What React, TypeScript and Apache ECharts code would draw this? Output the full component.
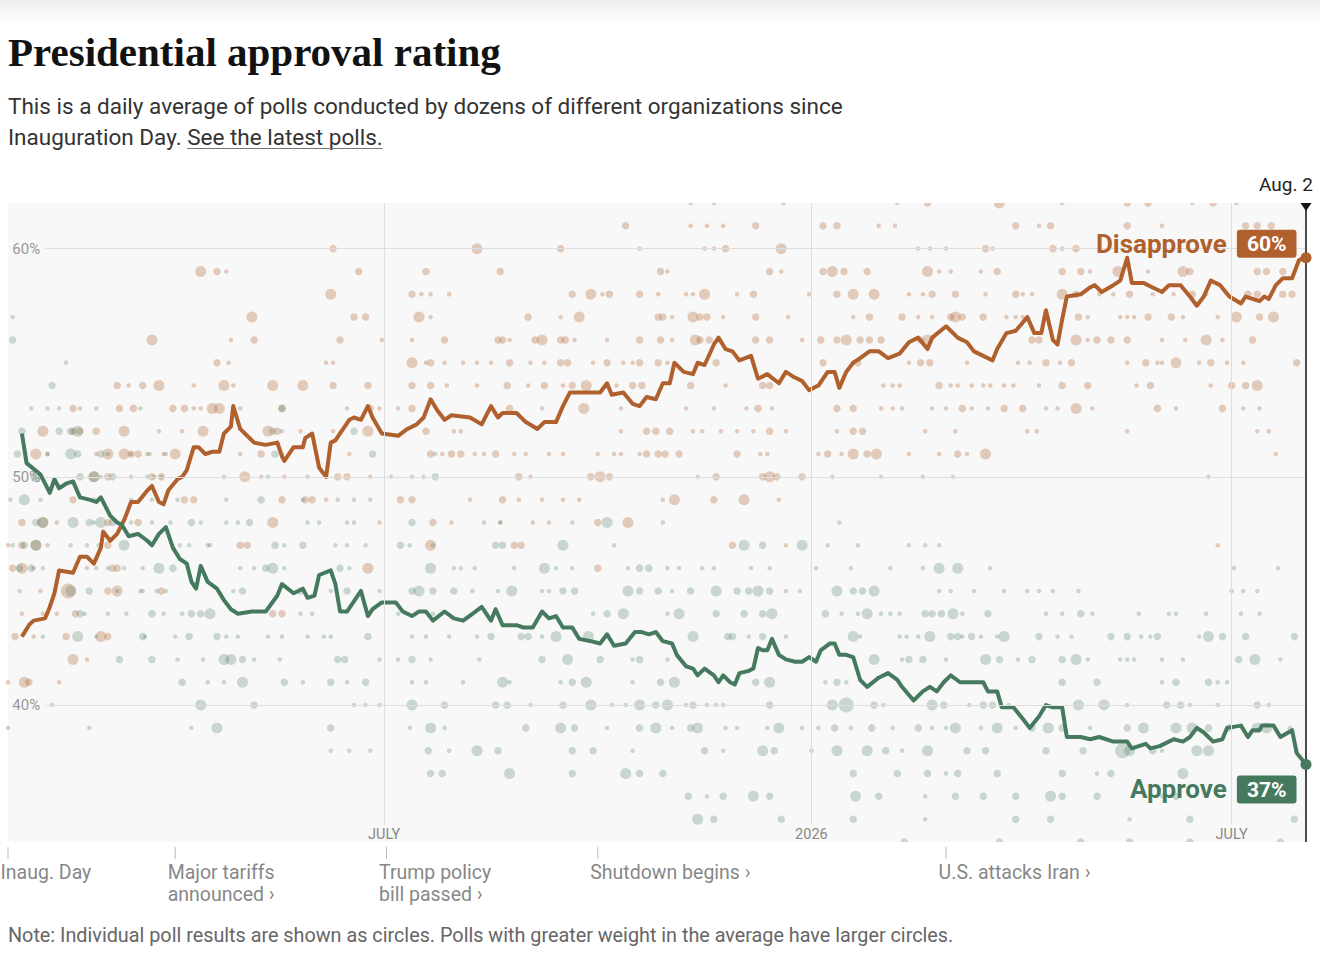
import React, { useEffect, useRef } from "react";
import * as echarts from "echarts";

// ---------- data ----------
// x values are days since Inauguration Day (Jan. 20, 2025)
const END_DAY = 559; // Aug. 2, 2026
const END_LABEL = "Aug. 2";
const Y_MIN = 34;
const Y_MAX = 62;
const Y_TICKS = [40, 50, 60];
const X_TICKS = [
  { day: 162, label: "JULY" },
  { day: 346, label: "2026" },
  { day: 527, label: "JULY" },
];
const EVENTS = [
  { day: 0, label: "Inaug. Day" },
  { day: 72, label: "Major tariffs\nannounced \u203a" },
  { day: 163, label: "Trump policy\nbill passed \u203a" },
  { day: 254, label: "Shutdown begins \u203a" },
  { day: 404, label: "U.S. attacks Iran \u203a" },
];

const DISAPPROVE_AVG: [number, number][] = [
  [6,43.0],[9,43.5],[11,43.7],[16,43.8],[18,44.3],[20,44.9],[22,45.9],[28,45.8],[31,46.5],[34,46.5],[37,46.2],[40,46.9],[41,47.6],[44,47.2],[47,47.5],[50,48.1],[53,48.9],[56,48.9],[60,49.4],[62,49.6],[65,48.9],[67,48.8],[69,49.4],[73,49.9],[75,50.0],[77,50.3],[80,51.3],[82,51.3],[85,51.0],[88,51.1],[91,51.1],[93,51.9],[96,52.2],[97,53.1],[100,52.1],[103,51.8],[106,51.5],[111,51.4],[116,51.5],[118,50.9],[119,50.7],[123,51.3],[127,51.3],[128,51.7],[131,51.9],[134,50.4],[137,50.0],[139,51.5],[141,51.6],[143,51.9],[147,52.5],[149,52.6],[152,52.5],[155,53.1],[157,52.6],[161,51.9],[168,51.8],[172,52.1],[176,52.3],[179,52.6],[182,53.4],[185,52.9],[188,52.5],[191,52.7],[199,52.6],[204,52.3],[208,53.1],[211,52.6],[213,52.8],[219,52.8],[223,52.4],[228,52.1],[231,52.4],[236,52.4],[239,53.1],[242,53.7],[248,53.7],[255,53.7],[258,54.1],[260,53.6],[265,53.7],[269,53.2],[272,53.1],[275,53.5],[279,53.4],[282,54.1],[285,54.1],[287,55.0],[291,54.6],[295,54.5],[297,55.0],[300,54.9],[304,55.8],[306,56.1],[309,55.6],[312,55.5],[315,55.1],[320,55.3],[323,54.3],[327,54.5],[332,54.1],[335,54.6],[338,54.4],[342,54.2],[345,53.8],[349,54.0],[353,54.6],[356,54.6],[358,53.9],[361,54.6],[364,55.0],[367,55.2],[371,55.5],[375,55.5],[379,55.2],[384,55.4],[388,55.9],[392,56.1],[396,55.6],[398,56.1],[404,56.6],[409,56.1],[413,55.9],[416,55.5],[420,55.3],[424,55.1],[426,55.6],[430,56.3],[434,56.4],[439,57.0],[442,56.3],[445,56.3],[447,57.3],[450,56.0],[452,55.8],[454,56.9],[456,57.9],[462,58.0],[466,58.3],[468,58.4],[471,58.1],[476,58.4],[479,58.6],[482,59.6],[484,58.5],[489,58.5],[493,58.3],[497,58.1],[500,58.4],[505,58.4],[509,57.9],[512,57.5],[515,57.9],[518,58.6],[522,58.4],[526,57.9],[531,57.6],[533,57.9],[539,57.7],[541,57.9],[543,57.8],[546,58.4],[549,58.7],[553,58.7],[556,59.5],[559,59.6],
];

const APPROVE_AVG: [number, number][] = [
  [6,51.9],[8,50.6],[14,50.1],[16,49.7],[18,49.3],[20,49.9],[22,49.5],[25,49.7],[28,49.8],[31,49.1],[35,49.0],[38,48.9],[40,49.1],[44,48.3],[47,48.0],[49,47.9],[52,47.4],[56,47.5],[60,47.2],[62,47.0],[65,47.5],[68,47.8],[71,46.9],[74,46.4],[77,46.2],[79,45.4],[81,45.1],[83,46.1],[86,45.4],[90,45.1],[93,44.6],[96,44.2],[99,44.0],[105,44.1],[111,44.1],[116,44.8],[118,45.3],[123,44.9],[127,45.1],[129,44.7],[132,44.8],[134,45.7],[139,45.9],[141,45.3],[143,44.1],[146,44.1],[152,45.0],[155,43.9],[157,44.2],[161,44.5],[167,44.5],[170,44.1],[174,43.9],[177,44.1],[180,44.1],[183,43.7],[188,44.1],[192,43.8],[196,43.7],[200,44.0],[204,44.3],[208,43.7],[210,44.2],[213,43.5],[219,43.5],[222,43.4],[226,43.4],[230,44.1],[233,43.8],[236,43.9],[239,43.4],[243,43.4],[246,42.9],[251,42.8],[255,42.7],[258,43.1],[261,42.6],[266,42.7],[270,43.2],[273,43.2],[276,43.1],[279,43.2],[282,42.8],[286,42.7],[288,42.2],[292,41.7],[295,41.6],[297,41.3],[300,41.6],[304,41.3],[306,41.0],[308,41.3],[311,41.0],[313,40.9],[315,41.4],[319,41.5],[321,41.6],[323,42.5],[325,42.4],[327,42.4],[329,42.9],[332,42.2],[335,42.0],[339,41.9],[342,41.9],[345,42.1],[348,41.9],[350,42.4],[354,42.7],[356,42.7],[358,42.2],[361,42.2],[364,42.1],[367,41.1],[370,40.8],[375,41.2],[379,41.4],[383,41.1],[385,40.8],[390,40.2],[394,40.6],[397,40.8],[400,40.6],[403,41.0],[406,41.3],[410,41.0],[414,41.0],[420,41.0],[422,40.6],[426,40.6],[428,39.9],[433,39.9],[437,39.4],[440,39.0],[444,39.5],[447,40.0],[450,39.9],[454,39.9],[456,38.6],[462,38.6],[466,38.5],[470,38.6],[476,38.4],[482,38.4],[484,38.1],[490,38.3],[492,38.1],[496,38.2],[502,38.5],[506,38.4],[509,38.6],[512,39.0],[515,38.8],[519,38.4],[523,38.5],[525,39.0],[531,39.1],[534,38.6],[536,38.9],[539,38.9],[540,39.1],[545,39.1],[548,38.6],[553,38.9],[555,37.9],[559,37.4],
];

// individual polls: [percent, [day, weight, day, weight, ...]]
const DISAPPROVE_POLL_ROWS: [number, number[]][] = [
  [62, [294,1, 304,1, 334,1, 383,1, 396,2, 427,3, 454,1, 482,2, 491,2, 510,1, 519,2, 529,1]],
  [61, [266,2, 294,1, 301,1, 308,1, 322,2, 351,2, 357,2, 375,1, 382,1, 434,2, 444,1, 449,2, 482,2, 497,1, 533,2, 538,2, 544,2]],
  [60, [140,2, 202,3, 238,2, 272,1, 300,1, 304,1, 309,2, 333,3, 392,1, 397,1, 404,1, 421,2, 424,1, 450,2, 454,1, 460,2, 538,2, 546,2]],
  [59, [83,3, 90,2, 94,1, 151,2, 180,2, 212,2, 281,2, 284,1, 328,2, 333,1, 351,2, 355,3, 360,2, 370,2, 396,3, 401,1, 406,1, 419,1, 426,2, 454,2, 462,2, 466,1, 478,3, 491,1, 506,3, 509,2, 538,2, 542,2, 549,2]],
  [58, [139,3, 174,2, 178,1, 182,1, 190,1, 243,2, 251,3, 256,1, 259,2, 272,2, 280,1, 292,1, 295,1, 300,3, 314,1, 321,2, 345,1, 357,2, 364,3, 373,3, 388,1, 394,1, 398,2, 408,2, 421,1, 434,2, 437,1, 441,1, 454,3, 460,2, 470,1, 476,1, 483,2, 493,1, 502,1, 510,2, 516,1, 534,2, 538,2, 549,2, 553,2]],
  [57, [105,3, 149,2, 154,2, 177,3, 182,1, 224,2, 238,1, 246,3, 280,2, 282,2, 286,1, 295,3, 298,2, 301,2, 308,1, 322,2, 336,1, 364,1, 371,2, 385,2, 392,1, 398,1, 406,2, 408,3, 411,2, 420,2, 430,1, 434,1, 437,1, 461,2, 465,1, 479,1, 482,1, 485,1, 491,2, 501,2, 506,1, 521,1, 529,3, 539,2, 545,3]],
  [56, [62,3, 96,1, 106,2, 143,2, 161,1, 174,1, 188,2, 211,2, 213,2, 216,1, 227,2, 230,3, 238,2, 240,2, 244,1, 258,1, 272,2, 281,2, 286,1, 296,3, 298,2, 302,2, 322,2, 328,2, 342,1, 350,2, 357,2, 361,3, 367,2, 371,2, 376,2, 393,2, 396,3, 411,1, 441,2, 444,2, 460,3, 465,1, 469,2, 475,2, 482,2, 497,1, 507,1, 516,3, 523,1, 536,2]],
  [55, [90,2, 95,1, 137,1, 140,1, 174,3, 180,1, 182,2, 188,1, 196,1, 202,1, 208,1, 216,2, 225,1, 231,1, 238,2, 241,2, 252,1, 258,2, 265,1, 269,1, 272,2, 280,2, 284,1, 305,2, 351,2, 366,2, 388,1, 393,2, 397,2, 413,1, 435,1, 440,1, 447,2, 453,1, 458,2, 482,1, 490,2, 495,1, 497,1, 503,3, 513,1, 518,2, 525,1, 532,1, 555,2]],
  [54, [47,2, 52,1, 58,2, 65,3, 80,1, 93,3, 97,1, 114,3, 127,3, 140,2, 155,2, 174,2, 182,2, 189,1, 202,1, 215,2, 224,1, 231,2, 239,1, 243,2, 249,3, 262,1, 269,2, 273,2, 294,2, 309,1, 325,2, 328,2, 377,1, 381,1, 384,1, 401,2, 406,1, 409,1, 415,1, 420,1, 423,1, 429,1, 433,1, 444,1, 454,2, 465,2, 486,1, 492,2, 518,1, 527,2, 533,2, 538,3]],
  [53, [28,2, 31,1, 48,2, 54,2, 71,2, 76,2, 80,1, 83,1, 88,3, 91,3, 100,1, 118,2, 146,1, 156,2, 160,1, 168,1, 174,2, 216,2, 230,1, 248,3, 264,1, 292,1, 304,1, 318,1, 323,2, 329,1, 357,2, 364,2, 376,1, 381,1, 385,1, 398,1, 404,1, 411,2, 415,1, 422,1, 429,2, 437,2, 447,1, 452,1, 460,3, 467,1, 495,2, 503,1, 523,2, 532,1, 539,1]],
  [52, [15,3, 28,2, 31,2, 38,2, 50,3, 75,1, 84,3, 112,3, 116,2, 126,1, 140,1, 155,3, 180,2, 192,1, 195,1, 264,1, 275,2, 279,2, 285,2, 295,1, 299,1, 307,1, 314,1, 321,1, 328,2, 335,1, 357,1, 364,2, 368,2, 395,1, 408,1, 439,1, 443,1, 482,1, 538,1, 543,1]],
  [51, [12,3, 17,1, 38,1, 43,3, 50,3, 53,2, 56,2, 60,1, 67,1, 72,3, 100,1, 109,2, 147,1, 182,2, 187,1, 191,2, 195,2, 201,1, 205,1, 210,2, 218,1, 223,1, 233,1, 239,1, 254,1, 261,1, 264,1, 272,1, 275,2, 280,2, 283,2, 289,2, 314,2, 324,1, 327,1, 349,1, 353,2, 359,1, 364,3, 370,2, 374,3, 388,1, 401,1, 409,2, 413,1, 421,3, 546,1]],
  [50, [37,3, 43,2, 62,2, 66,2, 93,1, 102,3, 109,1, 119,1, 129,1, 142,2, 146,2, 156,1, 220,2, 225,1, 251,2, 255,3, 259,2, 297,1, 305,2, 325,2, 328,3, 331,2, 342,2, 355,1, 517,1]],
  [49, [28,2, 76,2, 80,2, 118,2, 128,2, 131,2, 137,1, 169,2, 174,2, 199,1, 213,2, 220,1, 230,1, 239,1, 246,1, 282,1, 287,3, 304,2, 317,3, 332,1]],
  [48, [6,2, 15,3, 21,1, 43,2, 56,2, 114,3, 160,1, 183,2, 191,1, 212,1, 226,1, 233,1, 254,2, 267,3]],
  [47, [0,1, 6,2, 12,3, 17,1, 43,2, 86,1, 100,2, 103,2, 182,3, 218,2, 221,2, 312,2, 335,1, 521,1]],
  [46, [2,2, 6,3, 11,1, 34,1, 45,2, 47,2, 155,3, 218,1, 254,2, 284,1, 394,1, 528,1]],
  [45, [14,1, 26,4, 43,2, 47,3, 58,1, 66,2]],
  [44, [6,1, 15,1, 21,1, 29,2, 114,2, 118,2]],
  [43, [3,2, 11,1, 25,2, 40,3, 43,2]],
  [42, [28,3, 34,1]],
  [41, [0,1, 7,3, 9,2, 22,1]],
  [40, [19,1]],
  [39, [0,1, 35,1]],
];

const APPROVE_POLL_ROWS: [number, number[]][] = [
  [57, [2,1]],
  [56, [2,2]],
  [55, [25,1]],
  [54, [19,2]],
  [53, [10,1, 17,1, 22,1, 38,1, 57,1, 118,2]],
  [52, [6,2, 22,2, 27,2, 30,3, 65,1, 114,2, 118,1, 149,2]],
  [51, [4,2, 17,1, 27,3, 30,2, 40,2, 43,1, 53,1, 61,1, 68,1, 115,2, 118,1, 157,2, 184,1]],
  [50, [12,3, 31,2, 37,3, 40,1, 45,2, 53,1, 60,1, 63,1, 66,1, 112,1, 165,1, 174,1, 179,1, 184,2, 376,1, 394,1, 407,1]],
  [49, [1,1, 7,3, 14,1, 37,1, 53,1, 62,1, 73,1, 94,1, 109,2, 127,1, 142,1, 149,1, 156,1]],
  [48, [12,2, 15,3, 28,3, 35,2, 37,1, 40,3, 45,2, 53,1, 62,1, 70,1, 79,2, 83,1, 94,1, 99,1, 104,2, 129,1, 134,1, 146,1, 149,1, 174,2, 205,1, 212,1, 243,1, 258,3, 282,1, 358,1]],
  [47, [2,1, 7,2, 12,3, 27,1, 34,1, 39,1, 50,3, 74,1, 78,1, 87,1, 115,2, 119,1, 127,2, 141,1, 146,1, 154,1, 169,2, 173,1, 183,1, 210,2, 213,2, 239,3, 261,1, 317,3, 325,2, 342,3, 353,1, 366,1, 388,1, 395,1, 401,1]],
  [46, [5,2, 10,2, 15,1, 38,1, 43,1, 50,1, 58,1, 65,3, 71,2, 100,1, 106,1, 111,2, 114,3, 119,1, 143,2, 147,1, 182,3, 192,1, 195,1, 201,1, 231,3, 236,1, 243,1, 267,1, 272,2, 276,2, 289,1, 299,1, 304,1, 320,1, 328,1, 348,1, 363,1, 380,1, 401,3, 409,3, 423,1, 547,1]],
  [45, [5,1, 27,3, 35,2, 47,1, 57,1, 64,1, 68,1, 97,1, 101,2, 126,2, 139,1, 146,2, 160,1, 174,2, 177,3, 183,2, 192,2, 200,1, 211,1, 217,3, 230,1, 233,1, 239,2, 244,2, 267,3, 272,2, 280,2, 286,1, 294,2, 305,3, 314,2, 319,2, 323,3, 328,2, 335,1, 341,1, 357,3, 364,2, 368,2, 373,3, 401,1, 406,1, 416,1, 429,1, 439,1, 444,1, 450,1, 461,1, 527,1, 532,1, 538,1]],
  [44, [31,2, 33,1, 43,1, 51,1, 62,2, 67,1, 75,1, 79,2, 83,2, 87,3, 126,1, 131,1, 168,1, 183,1, 252,1, 258,2, 265,3, 284,1, 289,3, 305,2, 317,2, 325,2, 329,3, 352,2, 359,1, 366,1, 370,3, 376,1, 380,1, 384,1, 395,2, 398,2, 402,2, 407,3, 411,1, 422,2, 447,1, 454,1, 462,2, 467,1, 487,1, 500,1, 503,1, 516,1, 531,1, 539,1]],
  [43, [15,1, 30,3, 38,1, 58,2, 59,1, 72,1, 78,2, 90,2, 94,1, 99,1, 112,1, 118,1, 129,1, 136,1, 139,1, 155,2, 174,1, 180,1, 190,1, 202,1, 208,2, 221,2, 224,2, 230,1, 236,3, 250,3, 295,3, 310,2, 312,2, 319,1, 325,2, 335,1, 364,3, 367,1, 384,1, 387,1, 392,1, 397,3, 406,2, 409,2, 411,1, 415,2, 419,1, 426,1, 429,3, 444,2, 452,1, 458,1, 475,2, 482,2, 488,1, 492,1, 495,2, 513,1, 517,3, 523,2, 533,2, 554,2]],
  [42, [48,2, 62,2, 73,1, 84,1, 93,3, 96,3, 101,2, 106,1, 117,1, 142,2, 145,2, 160,1, 168,1, 174,2, 182,1, 203,1, 230,2, 241,3, 255,2, 269,1, 272,2, 284,1, 373,3, 385,1, 388,2, 394,2, 404,1, 421,3, 427,2, 435,1, 441,2, 454,2, 460,3, 465,1, 479,1, 482,1, 485,1, 497,1, 506,1, 530,2, 537,3, 548,1]],
  [41, [75,2, 86,1, 93,1, 101,3, 119,2, 127,1, 139,2, 146,1, 154,2, 174,1, 180,1, 196,1, 213,3, 216,1, 238,1, 243,2, 249,3, 269,1, 281,2, 287,3, 322,2, 328,3, 352,1, 357,2, 361,1, 454,2, 469,2, 497,1, 503,2, 517,2, 521,1, 525,1]],
  [40, [83,3, 106,2, 149,1, 154,1, 160,1, 174,3, 188,2, 210,2, 215,2, 225,1, 239,2, 251,3, 260,1, 266,1, 272,3, 279,2, 284,3, 292,1, 295,2, 301,1, 305,1, 308,1, 328,2, 355,3, 361,4, 373,2, 377,1, 398,3, 403,2, 414,1, 420,2, 424,2, 431,1, 461,3, 472,3, 482,1, 499,2, 505,2, 509,1, 521,1, 538,2, 543,1]],
  [39, [79,1, 90,3, 139,2, 173,1, 182,3, 188,1, 223,2, 238,3, 244,2, 258,1, 272,2, 279,3, 286,1, 294,2, 297,3, 309,1, 314,1, 327,1, 332,3, 342,1, 349,1, 356,2, 363,1, 372,2, 381,1, 392,2, 398,1, 404,1, 408,3, 419,1, 426,3, 434,1, 441,2, 448,3, 454,2, 466,1, 482,2, 489,3, 503,3, 510,3, 517,2, 526,2, 538,3, 542,3, 552,1]],
  [38, [139,1, 147,1, 156,1, 181,2, 190,1, 202,3, 211,2, 243,2, 252,2, 269,1, 300,2, 308,1, 325,3, 330,2, 346,1, 357,3, 370,3, 378,2, 385,1, 396,3, 413,2, 421,2, 447,2, 463,2, 480,4, 483,3, 493,2, 497,1, 512,3, 517,3]],
  [37, [182,2, 187,2, 216,3, 243,2, 266,3, 272,2, 282,2, 364,2, 383,2, 396,2, 404,1, 409,2, 426,2, 454,2, 469,1, 475,2, 506,3]],
  [36, [293,2, 301,1, 308,2, 321,3, 328,2, 365,3, 375,2, 395,1, 408,2, 420,2, 434,2, 449,3, 454,2, 469,2, 497,1, 503,2]],
  [35, [297,3, 304,2, 333,2, 364,2, 395,1, 434,2, 449,2, 483,1, 509,2, 554,2]],
  [34, [386,2, 427,2, 462,2, 483,2, 509,2, 548,2]],
];

// ---------- styles ----------
const SANS = 'Roboto, "Liberation Sans", sans-serif';
const SERIF = '"Liberation Serif", "DejaVu Serif", serif';
const DIS_COLOR = "#b0602c";
const APP_COLOR = "#457a5f";
const WEIGHT_SIZE = [0, 4.5, 7.5, 11, 15];
const SUB_SIZE = 22.5;
const SUB_LINE2_A = "Inauguration Day. ";
const SUB_LINE2_LINK = "See the latest polls.";

function expandRows(rows: [number, number[]][]) {
  const out: number[][] = [];
  rows.forEach(([pct, pairs]) => {
    for (let i = 0; i < pairs.length; i += 2) out.push([pairs[i], pct, pairs[i + 1]]);
  });
  return out;
}

function measure(text: string, font: string) {
  const ctx = document.createElement("canvas").getContext("2d");
  if (!ctx) return text.length * 10;
  ctx.font = font;
  return ctx.measureText(text).width;
}

function endLabel(name: string, color: string, offsetY: number) {
  return {
    show: true,
    position: "left",
    distance: 4,
    offset: [0, offsetY],
    formatter: (p: any) => `{n|${name}}{b|${p.value}%}`,
    rich: {
      n: { color, fontSize: 26, fontWeight: "bold", fontFamily: SANS, padding: [0, 10, 0, 0] },
      b: {
        color: "#fff", backgroundColor: color, fontSize: 21, fontWeight: "bold", fontFamily: SANS,
        lineHeight: 24, padding: [4, 10, 3, 10], borderRadius: 3,
      },
    },
  };
}

export default function App() {
  const ref = useRef<HTMLDivElement>(null);
  useEffect(() => {
    if (!ref.current) return;
    const chart = echarts.init(ref.current, undefined, { renderer: "svg" });
    const lastDis = DISAPPROVE_AVG[DISAPPROVE_AVG.length - 1];
    const lastApp = APPROVE_AVG[APPROVE_AVG.length - 1];
    const subFont = `${SUB_SIZE}px Roboto`;
    const linkX = 8 + measure(SUB_LINE2_A, subFont);
    const linkW = measure(SUB_LINE2_LINK, subFont);

    const option: any = {
      animation: false,
      textStyle: { fontFamily: SANS },
      grid: [
        { left: 8, top: 203, width: 1298, height: 639, show: true, backgroundColor: "#f8f8f8", borderWidth: 0 },
        { left: 8, top: 847, width: 1298, height: 12, show: false },
      ],
      xAxis: [
        { type: "value", gridIndex: 0, min: 0, max: END_DAY, show: false },
        { type: "value", gridIndex: 1, min: 0, max: END_DAY, show: false },
      ],
      yAxis: [
        { type: "value", gridIndex: 0, min: Y_MIN, max: Y_MAX, show: false },
        { type: "value", gridIndex: 1, min: 0, max: 1, show: false },
      ],
      series: [
        {
          type: "line", data: [], silent: true, z: 1,
          markLine: {
            silent: true, symbol: ["none", "none"],
            lineStyle: { color: "#dedede", width: 1, type: "solid" },
            data: [
              ...Y_TICKS.map((v) => [
                { coord: [16, v], label: { show: true, position: "start", distance: 5, formatter: `${v}%`, color: "#999", fontSize: 15 } },
                { coord: [END_DAY, v] },
              ]),
              ...X_TICKS.map((t) => [
                { coord: [t.day, 34.75], label: { show: true, position: "start", distance: 2, formatter: t.label, color: "#888", fontSize: 14.5 } },
                { coord: [t.day, Y_MAX] },
              ]),
            ],
          },
        },
        {
          name: "Disapprove polls", type: "scatter", z: 2, silent: true,
          data: expandRows(DISAPPROVE_POLL_ROWS),
          symbolSize: (v: number[]) => WEIGHT_SIZE[v[2]],
          itemStyle: { color: DIS_COLOR, opacity: 0.3 },
        },
        {
          name: "Approve polls", type: "scatter", z: 2, silent: true,
          data: expandRows(APPROVE_POLL_ROWS),
          symbolSize: (v: number[]) => WEIGHT_SIZE[v[2]],
          itemStyle: { color: APP_COLOR, opacity: 0.27 },
        },
        {
          name: "Disapprove", type: "line", z: 3, silent: true, showSymbol: false,
          data: DISAPPROVE_AVG,
          lineStyle: { color: DIS_COLOR, width: 4, join: "round" },
          markPoint: {
            silent: true, symbol: "circle", symbolSize: 11, itemStyle: { color: DIS_COLOR },
            data: [{ coord: lastDis, value: Math.round(lastDis[1]) }],
            label: endLabel("Disapprove", DIS_COLOR, -14),
          },
        },
        {
          name: "Approve", type: "line", z: 3, silent: true, showSymbol: false,
          data: APPROVE_AVG,
          lineStyle: { color: APP_COLOR, width: 4, join: "round" },
          markPoint: {
            silent: true, symbol: "circle", symbolSize: 11, itemStyle: { color: APP_COLOR },
            data: [{ coord: lastApp, value: Math.round(lastApp[1]) }],
            label: endLabel("Approve", APP_COLOR, 25),
          },
        },
        {
          type: "line", data: [], silent: true, z: 4,
          markLine: {
            silent: true, symbol: ["none", "none"],
            lineStyle: { color: "#111", width: 1.5, type: "solid" },
            label: { show: true, position: "end", distance: 9, offset: [-20, 0], formatter: END_LABEL, color: "#222", fontSize: 19 },
            data: [[{ coord: [END_DAY, Y_MIN] }, { coord: [END_DAY, Y_MAX] }]],
          },
          markPoint: {
            silent: true, symbol: "triangle", symbolSize: [11, 8], symbolRotate: 180, symbolOffset: [0, 4],
            itemStyle: { color: "#111" }, label: { show: false },
            data: [{ coord: [END_DAY, Y_MAX] }],
          },
        },
        {
          type: "scatter", xAxisIndex: 1, yAxisIndex: 1, silent: true,
          data: EVENTS.map((e) => ({ name: e.label, value: [e.day, 0.5] })),
          symbol: "rect", symbolSize: [1, 12], itemStyle: { color: "#aaa" },
          label: {
            show: true, position: [-7, 14], formatter: "{b}", color: "#666", fontSize: 19.5, lineHeight: 22,
            align: "left", verticalAlign: "top",
          },
        },
      ],
      graphic: [
        {
          type: "rect", silent: true, z: 0,
          shape: { x: 0, y: 0, width: 1320, height: 24 },
          style: {
            fill: new echarts.graphic.LinearGradient(0, 0, 0, 1, [
              { offset: 0, color: "rgba(0,0,0,0.07)" },
              { offset: 1, color: "rgba(0,0,0,0)" },
            ]),
          },
        },
        { type: "rect", silent: true, z: 50, shape: { x: 0, y: 197, width: 1300, height: 6 }, style: { fill: "#fff" } },
        { type: "rect", silent: true, z: 50, shape: { x: 0, y: 842, width: 1300, height: 5 }, style: { fill: "#fff" } },
        {
          type: "text", x: 8, y: 52, silent: true,
          style: { text: "Presidential approval rating", fontFamily: SERIF, fontSize: 41, fontWeight: "bold", fill: "#121212", verticalAlign: "middle" },
        },
        {
          type: "text", x: 8, y: 106, silent: true,
          style: { text: "This is a daily average of polls conducted by dozens of different organizations since", fontFamily: SANS, fontSize: SUB_SIZE, fill: "#333", verticalAlign: "middle" },
        },
        {
          type: "text", x: 8, y: 137, silent: true,
          style: { text: SUB_LINE2_A + SUB_LINE2_LINK, fontFamily: SANS, fontSize: SUB_SIZE, fill: "#333", verticalAlign: "middle" },
        },
        { type: "line", silent: true, shape: { x1: linkX, y1: 148.5, x2: linkX + linkW, y2: 148.5 }, style: { stroke: "#777", lineWidth: 1 } },
        {
          type: "text", x: 8, y: 935, silent: true,
          style: { text: "Note: Individual poll results are shown as circles. Polls with greater weight in the average have larger circles.", fontFamily: SANS, fontSize: 19.8, fill: "#666", verticalAlign: "middle" },
        },
      ],
    };
    chart.setOption(option);
    return () => chart.dispose();
  }, []);
  return <div ref={ref} style={{ position: "absolute", left: 0, top: 0, width: 1320, height: 966 }} />;
}
